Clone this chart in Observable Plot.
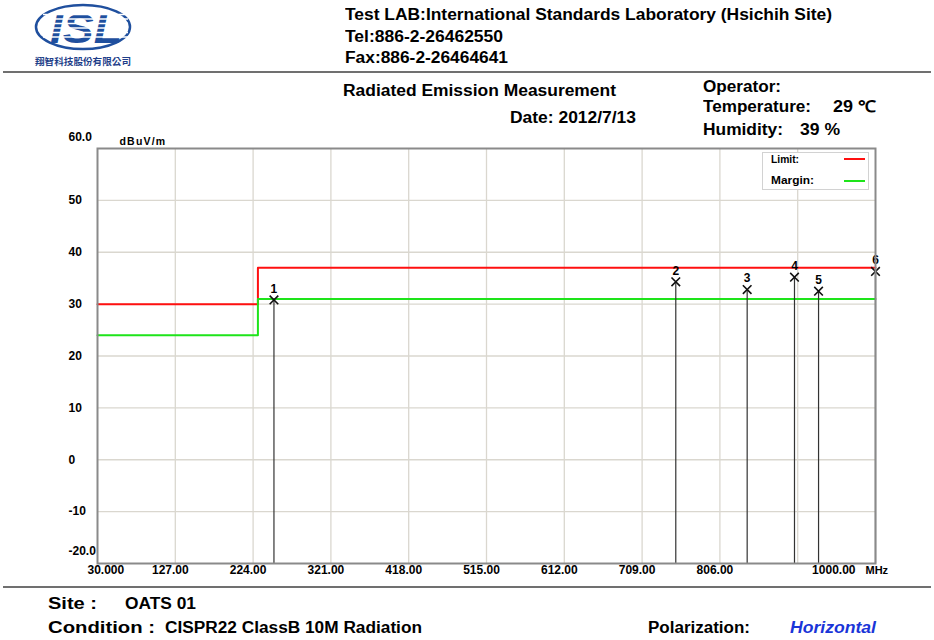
<!DOCTYPE html>
<html><head><meta charset="utf-8">
<script src="https://cdn.jsdelivr.net/npm/d3@7"></script>
<script src="https://cdn.jsdelivr.net/npm/@observablehq/plot@0.6"></script>
<style>
body{margin:0;background:#fff;}
#page{position:relative;width:934px;height:640px;overflow:hidden;font-family:"Liberation Sans",Arial,sans-serif;color:#000;}
#page svg.chart{position:absolute;left:0;top:0;}
.t{position:absolute;white-space:nowrap;line-height:1;transform-origin:0 0;}
.rule{position:absolute;height:2px;background:#707070;}
</style></head><body><div id="page"></div>
<script>
// ---- data ----
const xTickValues = [30, 127, 224, 321, 418, 515, 612, 709, 806, 1000];
const xGridValues = [127, 224, 321, 418, 515, 612, 709, 806, 903];
const yTickValues = [-10, 0, 10, 20, 30, 40, 50];
const limitFreq = [30, 230, 1000];
const limitLevel = [30, 37, 37];
const marginLevel = [24, 31, 31];
const peakId = [1, 2, 3, 4, 5, 6];
const peakFreq = [250, 751, 840, 899, 929, 1000];
const peakLevel = [30.8, 34.3, 32.8, 35.2, 32.5, 36.3];

const limit = limitFreq.map((f, i) => ({f, v: limitLevel[i]}));
const margin = limitFreq.map((f, i) => ({f, v: marginLevel[i]}));
const peaks = peakId.map((id, i) => ({id, f: peakFreq[i], v: peakLevel[i]}));

const fmtX = d => d === 30 ? "30.000" : d.toFixed(2);
const font = "Liberation Sans, Arial, sans-serif";

const chart = Plot.plot({
  width: 934, height: 640,
  marginLeft: 97, marginRight: 59, marginTop: 148, marginBottom: 77,
  x: {domain: [30, 1000], axis: null},
  y: {domain: [-20, 60], axis: null},
  style: {fontFamily: font, background: "transparent", overflow: "visible"},
  marks: [
    Plot.ruleX(xGridValues, {stroke: "#dad7cf", strokeWidth: 1.3}),
    Plot.ruleY(yTickValues, {stroke: "#dad7cf", strokeWidth: 1.3}),
    Plot.line(limit, {x: "f", y: "v", curve: "step-after", stroke: "#ff1010", strokeWidth: 2}),
    Plot.line(margin, {x: "f", y: "v", curve: "step-after", stroke: "#1ee41a", strokeWidth: 2}),
    Plot.ruleX(peaks, {x: "f", y1: -20, y2: "v", stroke: "#333", strokeWidth: 1.2}),
    Plot.dot(peaks, {x: "f", y: "v", symbol: "times", r: 4, stroke: "#111", strokeWidth: 1.6}),
    Plot.text(peaks, {x: "f", y: "v", text: d => String(d.id), dy: -11, fontSize: 12, fontWeight: "bold", fill: "#000"}),
    Plot.frame({stroke: "#8a8a8a", strokeWidth: 2}),
    // x tick labels
    Plot.text(xTickValues.filter(d => d === 30), {x: d => d, frameAnchor: "bottom", dy: 10, dx: -10, textAnchor: "start", text: fmtX, fontSize: 12, fontWeight: "bold"}),
    Plot.text(xTickValues.filter(d => d !== 30 && d !== 1000), {x: d => d, frameAnchor: "bottom", dy: 10, dx: -5, text: fmtX, fontSize: 12, fontWeight: "bold"}),
    Plot.text(xTickValues.filter(d => d === 1000), {x: d => d, frameAnchor: "bottom", dy: 10, dx: -20, textAnchor: "end", text: fmtX, fontSize: 12, fontWeight: "bold"}),
    Plot.text(["MHz"], {frameAnchor: "bottom-right", dy: 10, dx: -10, textAnchor: "start", fontSize: 11, fontWeight: "bold"}),
    // y tick labels
    Plot.text(yTickValues, {y: d => d, frameAnchor: "left", dx: -29, textAnchor: "start", text: d => String(d), fontSize: 12, fontWeight: "bold"}),
    Plot.text([60], {y: d => d, frameAnchor: "left", dx: -29, dy: -11, textAnchor: "start", text: d => d.toFixed(1), fontSize: 12, fontWeight: "bold"}),
    Plot.text([-20], {y: d => d, frameAnchor: "left", dx: -29, dy: -12, textAnchor: "start", text: d => d.toFixed(1), fontSize: 12, fontWeight: "bold"}),
    Plot.text(["dBuV/m"], {frameAnchor: "top-left", dx: 22, dy: -11, textAnchor: "start", fontSize: 10.5, fontWeight: "bold", className: "unit"})
  ]
});
chart.classList.add("chart");
d3.select(chart).selectAll(".unit text").style("letter-spacing", "1.2px");
const page = document.getElementById("page");
page.appendChild(chart);

function addText(str, x, yc, size, w, opts = {}) {
  const s = document.createElement("span");
  s.className = "t";
  s.textContent = str;
  s.style.fontSize = size + "px";
  s.style.left = x + "px";
  s.style.top = (yc - 0.49 * size) + "px";
  s.style.fontWeight = opts.weight || "bold";
  if (opts.color) s.style.color = opts.color;
  if (opts.italic) s.style.fontStyle = "italic";
  page.appendChild(s);
  if (w) {
    const cw = s.getBoundingClientRect().width;
    s.style.transform = `scaleX(${w / cw})`;
  }
  return s;
}
function addRule(x, y, w) {
  const d = document.createElement("div");
  d.className = "rule";
  d.style.left = x + "px"; d.style.top = y + "px"; d.style.width = w + "px";
  page.appendChild(d);
}

// logo
page.insertAdjacentHTML("beforeend", `
<svg width="120" height="70" style="position:absolute;left:28px;top:0">
  <ellipse cx="55" cy="27" rx="47" ry="22" fill="none" stroke="#1f4f9e" stroke-width="2.5"/>
  <text x="58" y="43" text-anchor="middle" font-family="Liberation Sans" font-weight="bold" font-style="italic" font-size="42" fill="#1f4f9e" textLength="72" lengthAdjust="spacingAndGlyphs">ISL</text>
  <g stroke="#fff" stroke-width="1.3">
    <line x1="15" x2="100" y1="14.5" y2="14.5"/><line x1="15" x2="100" y1="19" y2="19"/>
    <line x1="15" x2="100" y1="23.5" y2="23.5"/><line x1="15" x2="100" y1="28" y2="28"/>
    <line x1="15" x2="100" y1="32.5" y2="32.5"/><line x1="15" x2="100" y1="37" y2="37"/>
  </g>
  <text x="7" y="65" font-family="Noto Sans CJK TC" font-weight="bold" font-size="9" fill="#1f3f8a" textLength="96" lengthAdjust="spacingAndGlyphs">翔智科技股份有限公司</text>
</svg>`);

// header
addText("Test LAB:International Standards Laboratory (Hsichih Site)", 345, 15, 16, 487);
addText("Tel:886-2-26462550", 345, 37, 16, 158);
addText("Fax:886-2-26464641", 345, 58, 16, 163);
addRule(3, 71, 928);
addText("Radiated Emission Measurement", 343, 91, 16, 273);
addText("Date: 2012/7/13", 510, 118, 16, 126);
addText("Operator:", 703, 87, 16, 78);
addText("Temperature:", 703, 107, 16, 108);
addText("29 ℃", 833, 107, 16, 43);
addText("Humidity:", 703, 130, 16, 80);
addText("39 %", 800, 130, 16, 40);

// legend
page.insertAdjacentHTML("beforeend", `
<div style="position:absolute;left:762px;top:152px;width:105px;height:36px;border:1.5px solid #d2d2d2;background:#fff"></div>
<div style="position:absolute;left:844px;top:158px;width:21px;height:2px;background:#ff1010"></div>
<div style="position:absolute;left:844px;top:180px;width:21px;height:2px;background:#1ee41a"></div>`);
addText("Limit:", 771, 159, 11, 28);
addText("Margin:", 771, 180, 11, 43);

// footer
addRule(3, 586, 928);
addText("Site :", 48, 604, 16, 49);
addText("OATS 01", 125, 604, 16, 71);
addText("Condition :", 48, 628, 16, 107);
addText("CISPR22 ClassB 10M Radiation", 165, 628, 16, 257);
addText("Polarization:", 648, 628, 16, 102);
addText("Horizontal", 790, 628, 16, 86, {color: "#1a35d8", italic: true});
</script></body></html>
